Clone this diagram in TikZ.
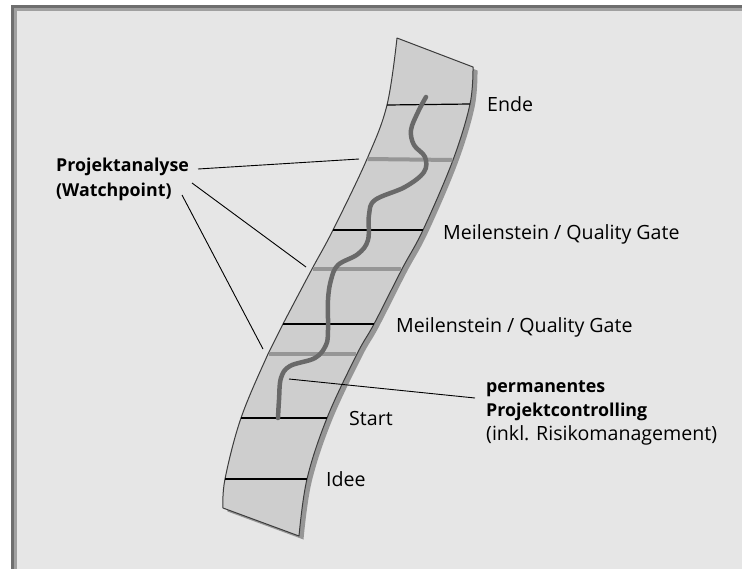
\documentclass[tikz,border=0pt]{standalone}
\usepackage{fontspec}
\setmainfont{Open Sans}
\definecolor{bgc}{RGB}{230,230,230}
\definecolor{frameA}{RGB}{110,110,110}
\definecolor{frameB}{RGB}{160,160,160}
\definecolor{bandc}{RGB}{206,206,206}
\definecolor{shadowc}{RGB}{150,150,150}
\definecolor{edgec}{RGB}{60,60,60}
\definecolor{wpc}{RGB}{150,150,150}
\definecolor{pathc}{RGB}{105,105,105}
\tikzset{
  lbl/.style={anchor=base west, inner sep=0pt, font=\fontsize{19.6}{22}\selectfont},
  lblb/.style={lbl, font=\fontsize{17.8}{22}\selectfont\bfseries},
  milestone/.style={draw=black, line width=1.2pt},
  watch/.style={draw=wpc, line width=4pt},
  pointer/.style={draw=black, line width=0.9pt},
  progress/.style={draw=pathc, line width=4.5pt, line cap=round, line join=round},
}
\begin{document}
\begin{tikzpicture}[x=1pt,y=-1pt]
\useasboundingbox (0,0) rectangle (742,571);
\fill[white] (0,0) rectangle (742,571);
\fill[frameA] (11,5) rectangle (742,568.5);
\fill[frameB] (14,8) rectangle (742,568.5);
\fill[bgc] (16.5,10.5) rectangle (742,568.5);

% band points
\coordinate (L0) at (397,38);
\coordinate (L1) at (387,105);
\coordinate (L2) at (367,159);
\coordinate (L3) at (333,230);
\coordinate (L4) at (312,269);
\coordinate (L5) at (283,324);
\coordinate (L6) at (268,354);
\coordinate (L7) at (241,418);
\coordinate (L8) at (225,479);
\coordinate (L9) at (223,508);
\coordinate (R0) at (473,67);
\coordinate (R1) at (470,104);
\coordinate (R2) at (453,160);
\coordinate (R3) at (423,230);
\coordinate (R4) at (402,269);
\coordinate (R5) at (374,324);
\coordinate (R6) at (357,354);
\coordinate (R7) at (327,418);
\coordinate (R8) at (307,479);
\coordinate (R9) at (299,536);

% shadow
\begin{scope}[shift={(4.5,3.5)}]
\fill[shadowc] plot[smooth,tension=0.6] coordinates {(397,38) (387,105) (367,159) (333,230) (312,269) (283,324) (268,354) (241,418) (225,479) (223,508)}
 -- plot[smooth,tension=0.6] coordinates {(299,536) (307,479) (327,418) (357,354) (374,324) (402,269) (423,230) (453,160) (470,104) (473,67)} -- cycle;
\end{scope}
% band
\filldraw[fill=bandc, draw=edgec, line width=1pt, line join=round] plot[smooth,tension=0.6] coordinates {(397,38) (387,105) (367,159) (333,230) (312,269) (283,324) (268,354) (241,418) (225,479) (223,508)}
 -- plot[smooth,tension=0.6] coordinates {(299,536) (307,479) (327,418) (357,354) (374,324) (402,269) (423,230) (453,160) (470,104) (473,67)} -- cycle;

% milestones and watchpoints
\draw[milestone] (L1) -- (R1);
\draw[watch] ([xshift=0.6pt]L2) -- ([xshift=-0.6pt]R2);
\draw[milestone] (L3) -- (R3);
\draw[watch] ([xshift=0.6pt]L4) -- ([xshift=-0.6pt]R4);
\draw[milestone] (L5) -- (R5);
\draw[watch] ([xshift=0.6pt]L6) -- ([xshift=-0.6pt]R6);
\draw[milestone] (L7) -- (R7);
\draw[milestone] (L8) -- (R8);

% progress path
\draw[progress] plot[smooth,tension=0.6] coordinates {(426,97) (418,112) (411,130) (414,145) (425,157) (424,172) (405,187) (375,200) (369,215) (368,240) (358,254) (338,265) (331,280) (328,300) (328,330) (326,345) (315,358) (290,366) (281,378) (279,400) (278,418)};

% labels
\node[lbl] (ende) at (487,111.5) {Ende};
\node[lbl] (ms1) at (443,239) {Meilenstein / Quality Gate};
\node[lbl] (ms2) at (396,332) {Meilenstein / Quality Gate};
\node[lbl] (start) at (349,425.5) {Start};
\node[lbl] (idee) at (326,486.5) {Idee};
\node[lblb] (pa1) at (56,171.5) {Projektanalyse};
\node[lblb] (pa2) at (56,196.5) {(Watchpoint)};
\node[lblb] (pc1) at (486,392.5) {permanentes};
\node[lblb] (pc2) at (486,416) {Projektcontrolling};
\node[lbl] (pc3) at (486,440) {(inkl. Risikomanagement)};

% pointers
\coordinate (pa1e) at (198,169);
\coordinate (pa2e) at (192,183);
\coordinate (pa3e) at (182,195);
\coordinate (w1) at (359,159);
\coordinate (w2) at (306,267);
\coordinate (w3) at (263,349);
\coordinate (pcs) at (289,379);
\coordinate (pce) at (475,398);
\draw[pointer] (pa1e) -- (w1);
\draw[pointer] (pa2e) -- (w2);
\draw[pointer] (pa3e) -- (w3);
\draw[pointer] (pcs) -- (pce);
\end{tikzpicture}
\end{document}
